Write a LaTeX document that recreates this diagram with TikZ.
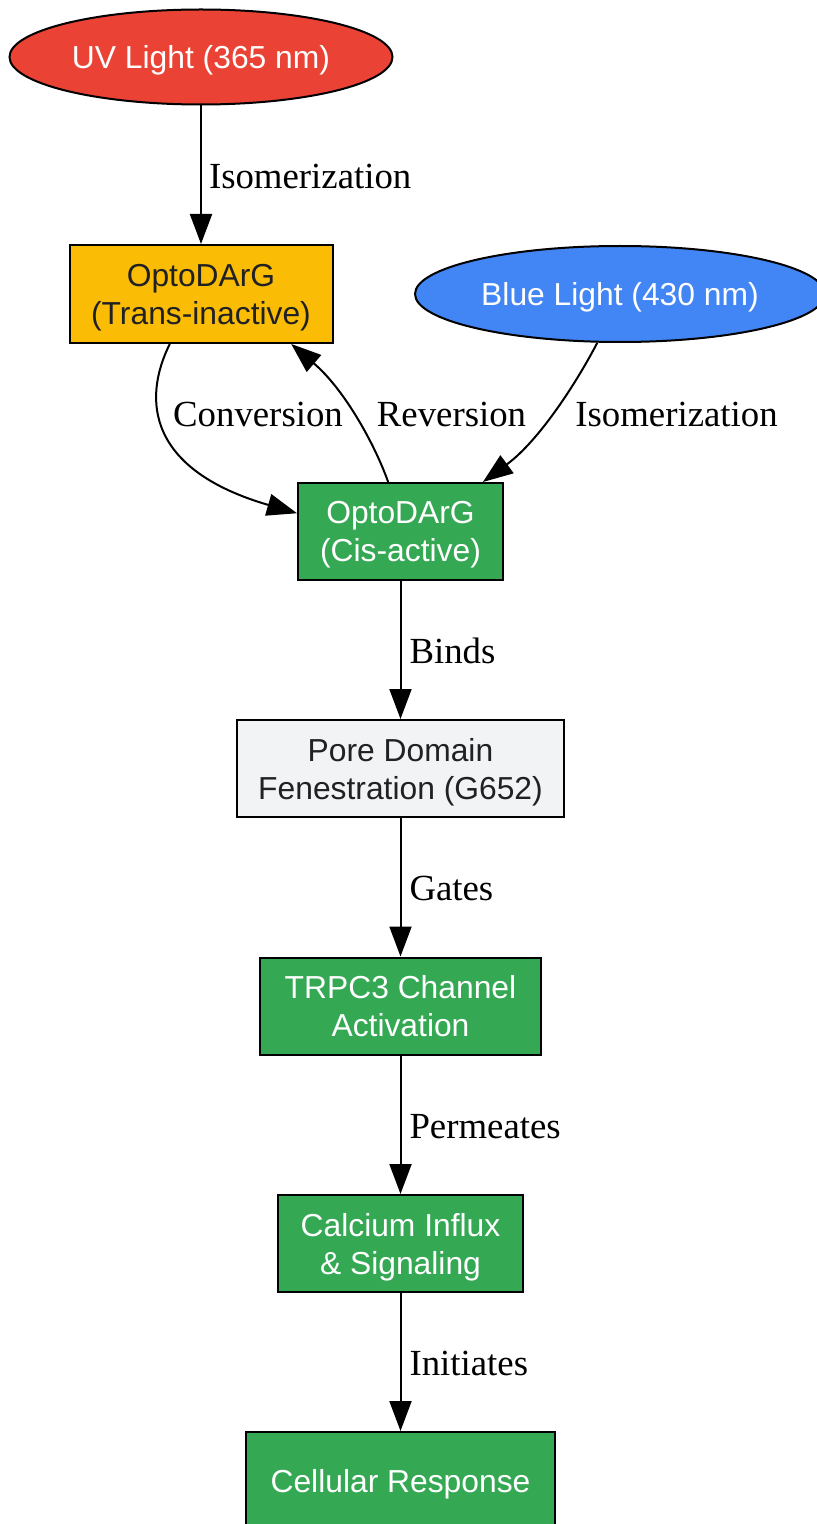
\documentclass[tikz,border=0pt]{standalone}
\usepackage{fontspec}
\setmainfont{Liberation Serif}
\newfontfamily\boxfont{Liberation Sans}
\usetikzlibrary{shapes.geometric,positioning}
\usetikzlibrary{arrows.meta}
\definecolor{uvred}	{HTML}	{EA4335}
\definecolor{bluelt}	{HTML}	{4285F4}
\definecolor{transyel}	{HTML}	{FBBC05}
\definecolor{actgreen}	{HTML}	{34A853}
\definecolor{poregray}	{HTML}	{F1F3F4}
\definecolor{darktxt}	{HTML}	{202124}

\begin{document}
\begin{tikzpicture}[x=0.5pt, y=-0.5pt,
    every node/.append style={draw, line width=1pt, inner sep=0pt, align=center, text depth=-0.5pt,
      font=\boxfont\fontsize{15.9}{19}\selectfont},
    box/.style={rectangle, minimum height=48.5pt},
    lbl/.style={draw=none, font=\fontsize{18.4}{22}\selectfont, text height=13.5pt, text depth=0pt},
    arr/.style={line width=1pt, -{Triangle[length=15pt,width=11pt]}}]
  \useasboundingbox (0,0) rectangle (817,1524);

  \node (uv) at (201, 57) [ellipse, fill=uvred, text=white, minimum width=191.5pt, minimum height=47.5pt]
        {UV Light (365 nm)};
  \node (blue) at (620, 294) [ellipse, fill=bluelt, text=white, minimum width=205pt, minimum height=48pt]
        {Blue Light (430 nm)};
  \node (trans) at (201, 294) [box, fill=transyel, text=darktxt, minimum width=131.5pt, minimum height=49pt]
        {OptoDArG\\(Trans-inactive)};
  \node (cis) at (400.5, 531.5) [box, fill=actgreen, text=white, minimum width=102.5pt]
        {OptoDArG\\(Cis-active)};
  \node (pore) at (400.5, 768.5) [box, fill=poregray, text=darktxt, minimum width=163.5pt]
        {Pore Domain\\Fenestration (G652)};
  \node (trpc) at (400.5, 1006) [box, fill=actgreen, text=white, minimum width=140.5pt]
        {TRPC3 Channel\\Activation};
  \node (calc) at (400.5, 1243.5) [box, fill=actgreen, text=white, minimum width=122.5pt]
        {Calcium Influx\\\& Signaling};
  \node (resp) at (400.5, 1480.5) [box, fill=actgreen, text=white, minimum width=154.5pt]
        {Cellular Response};

  \draw[arr] (uv) -- node[lbl, right=3.5pt] (liso) {Isomerization} (trans);
  \draw[arr] (trans.238) .. controls (142, 400) and (148, 470) .. (cis.170);
  \draw[arr] (cis.104) .. controls (375, 445) and (345, 390) .. (trans.-29);
  \draw[arr] (blue.245) .. controls (578, 380) and (540, 440) .. (cis.31);
  \node (lconv) at (258, 426) [lbl, anchor=base] {Conversion};
  \node (lrev) at (451.5, 426) [lbl, anchor=base] {Reversion};
  \node (lisob) at (676.5, 426) [lbl, anchor=base] {Isomerization};

  \draw[arr] (cis) -- node[lbl, right=4pt] (lbind) {Binds} (pore);
  \draw[arr] (pore) -- node[lbl, right=4pt] (lgate) {Gates} (trpc);
  \draw[arr] (trpc) -- node[lbl, right=4pt] (lperm) {Permeates} (calc);
  \draw[arr] (calc) -- node[lbl, right=4pt] (linit) {Initiates} (resp);
\end{tikzpicture}
\end{document}
